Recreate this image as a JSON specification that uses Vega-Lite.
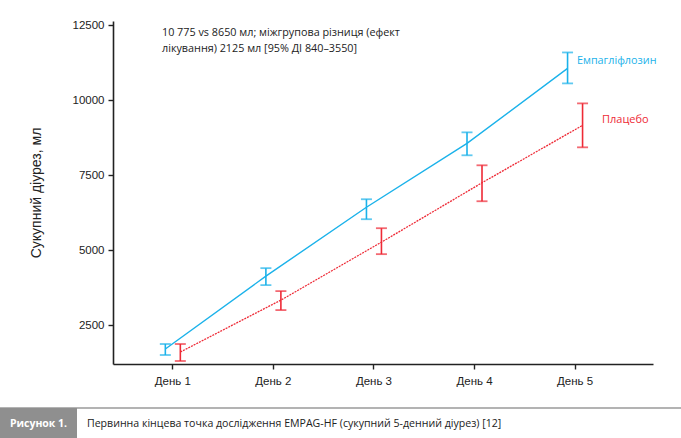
{
  "$schema": "https://vega.github.io/schema/vega-lite/v6.json",
  "width": 540,
  "height": 343,
  "autosize": {"type": "none"},
  "padding": {"left": 113, "top": 21, "right": 28, "bottom": 74},
  "background": "white",
  "config": {"view": {"stroke": null}},
  "datasets": {
    "main": [
      {"day": 1, "group": "Емпагліфлозин", "value": 1700, "lo": 1500, "hi": 1867},
      {"day": 2, "group": "Емпагліфлозин", "value": 4133, "lo": 3833, "hi": 4400},
      {"day": 3, "group": "Емпагліфлозин", "value": 6433, "lo": 6033, "hi": 6700},
      {"day": 4, "group": "Емпагліфлозин", "value": 8567, "lo": 8167, "hi": 8933},
      {"day": 5, "group": "Емпагліфлозин", "value": 11067, "lo": 10567, "hi": 11600},
      {"day": 1, "group": "Плацебо", "value": 1600, "lo": 1300, "hi": 1867},
      {"day": 2, "group": "Плацебо", "value": 3333, "lo": 3000, "hi": 3633},
      {"day": 3, "group": "Плацебо", "value": 5267, "lo": 4867, "hi": 5733},
      {"day": 4, "group": "Плацебо", "value": 7250, "lo": 6633, "hi": 7833},
      {"day": 5, "group": "Плацебо", "value": 9167, "lo": 8433, "hi": 9900}
    ]
  },
  "layer": [
    {
      "data": {"name": "main"},
      "transform": [{"filter": "datum.group === 'Емпагліфлозин'"}],
      "mark": {"type": "line", "color": "#1bb2ea", "strokeWidth": 1.4, "xOffset": -7},
      "encoding": {
        "x": {
          "field": "day", "type": "quantitative",
          "scale": {"domain": [0.41, 5.78], "nice": false, "zero": false},
          "axis": {
            "values": [1, 2, 3, 4, 5], "labelExpr": "'День ' + datum.value",
            "title": null, "grid": false, "domainColor": "#222", "domainWidth": 1.6,
            "tickColor": "#222", "tickWidth": 1.4, "tickSize": 5, "labelPadding": 6,
            "labelFont": "Liberation Sans", "labelFontSize": 11.5, "labelColor": "#222"
          }
        },
        "y": {
          "field": "value", "type": "quantitative",
          "scale": {"domain": [1200, 12650], "nice": false, "zero": false},
          "axis": {
            "values": [2500, 5000, 7500, 10000, 12500], "format": "d",
            "title": "Сукупний діурез, мл", "titleFont": "Liberation Sans", "titleFontSize": 14,
            "titleFontWeight": "normal", "titleColor": "#222", "titlePadding": 29,
            "grid": false, "domainColor": "#222", "domainWidth": 1.6,
            "tickColor": "#222", "tickWidth": 1.4, "tickSize": 5, "labelPadding": 4,
            "labelFont": "Liberation Sans", "labelFontSize": 11.5, "labelColor": "#222"
          }
        }
      }
    },
    {
      "data": {"name": "main"},
      "transform": [{"filter": "datum.group === 'Плацебо'"}],
      "mark": {"type": "line", "color": "#ee2a36", "strokeWidth": 1.3, "strokeDash": [2, 1], "xOffset": 8},
      "encoding": {"x": {"field": "day", "type": "quantitative"}, "y": {"field": "value", "type": "quantitative"}}
    },
    {
      "data": {"name": "main"},
      "transform": [{"filter": "datum.group === 'Емпагліфлозин'"}],
      "mark": {"type": "rule", "color": "#1bb2ea", "strokeWidth": 1.6, "xOffset": -7},
      "encoding": {"x": {"field": "day", "type": "quantitative"}, "y": {"field": "lo", "type": "quantitative"}, "y2": {"field": "hi"}}
    },
    {
      "data": {"name": "main"},
      "transform": [{"filter": "datum.group === 'Емпагліфлозин'"}],
      "mark": {"type": "tick", "color": "#1bb2ea", "orient": "horizontal", "size": 11, "thickness": 1.8, "xOffset": -7},
      "encoding": {"x": {"field": "day", "type": "quantitative"}, "y": {"field": "lo", "type": "quantitative"}}
    },
    {
      "data": {"name": "main"},
      "transform": [{"filter": "datum.group === 'Емпагліфлозин'"}],
      "mark": {"type": "tick", "color": "#1bb2ea", "orient": "horizontal", "size": 11, "thickness": 1.8, "xOffset": -7},
      "encoding": {"x": {"field": "day", "type": "quantitative"}, "y": {"field": "hi", "type": "quantitative"}}
    },
    {
      "data": {"name": "main"},
      "transform": [{"filter": "datum.group === 'Плацебо'"}],
      "mark": {"type": "rule", "color": "#ee2a36", "strokeWidth": 1.6, "xOffset": 8},
      "encoding": {"x": {"field": "day", "type": "quantitative"}, "y": {"field": "lo", "type": "quantitative"}, "y2": {"field": "hi"}}
    },
    {
      "data": {"name": "main"},
      "transform": [{"filter": "datum.group === 'Плацебо'"}],
      "mark": {"type": "tick", "color": "#ee2a36", "orient": "horizontal", "size": 11, "thickness": 1.8, "xOffset": 8},
      "encoding": {"x": {"field": "day", "type": "quantitative"}, "y": {"field": "lo", "type": "quantitative"}}
    },
    {
      "data": {"name": "main"},
      "transform": [{"filter": "datum.group === 'Плацебо'"}],
      "mark": {"type": "tick", "color": "#ee2a36", "orient": "horizontal", "size": 11, "thickness": 1.8, "xOffset": 8},
      "encoding": {"x": {"field": "day", "type": "quantitative"}, "y": {"field": "hi", "type": "quantitative"}}
    },
    {
      "data": {"values": [{"t": "Емпагліфлозин"}]},
      "mark": {"type": "text", "align": "left", "baseline": "middle", "font": "Open Sans", "fontSize": 10.8, "color": "#1bb2ea", "clip": false},
      "encoding": {"x": {"datum": 5.024, "type": "quantitative"}, "y": {"datum": 11315, "type": "quantitative"}, "text": {"field": "t"}}
    },
    {
      "data": {"values": [{"t": "Плацебо"}]},
      "mark": {"type": "text", "align": "left", "baseline": "middle", "font": "Open Sans", "fontSize": 11, "color": "#ee2a36", "clip": false},
      "encoding": {"x": {"datum": 5.273, "type": "quantitative"}, "y": {"datum": 9345, "type": "quantitative"}, "text": {"field": "t"}}
    },
    {
      "data": {"values": [{"t": ["10 775 vs 8650 мл; міжгрупова різниця (ефект", "лікування) 2125 мл [95% ДІ 840–3550]"]}]},
      "mark": {"type": "text", "align": "left", "baseline": "middle", "font": "Open Sans", "fontSize": 10.8, "lineHeight": 16, "color": "#222", "clip": false},
      "encoding": {"x": {"datum": 0.897, "type": "quantitative"}, "y": {"datum": 12250, "type": "quantitative"}, "text": {"field": "t"}}
    },
    {
      "data": {"values": [{"t": "line"}]},
      "mark": {"type": "rule", "color": "#9a9a9a", "strokeWidth": 1.5, "clip": false},
      "encoding": {"x": {"datum": -0.72, "type": "quantitative"}, "x2": {"datum": 6.06}, "y": {"datum": -268, "type": "quantitative"}}
    },
    {
      "data": {"values": [{"t": "box"}]},
      "mark": {"type": "rect", "color": "#8f8f8f", "clip": false},
      "encoding": {"x": {"datum": -0.72, "type": "quantitative"}, "x2": {"datum": 0.052}, "y": {"datum": -268, "type": "quantitative"}, "y2": {"datum": -1300}}
    },
    {
      "data": {"values": [{"t": "Рисунок 1."}]},
      "mark": {"type": "text", "align": "center", "baseline": "middle", "font": "Open Sans", "fontSize": 10.5, "fontWeight": "bold", "color": "white", "clip": false},
      "encoding": {"x": {"datum": -0.331, "type": "quantitative"}, "y": {"datum": -802, "type": "quantitative"}, "text": {"field": "t"}}
    },
    {
      "data": {"values": [{"t": "Первинна кінцева точка дослідження EMPAG-HF (сукупний 5-денний діурез) [12]"}]},
      "mark": {"type": "text", "align": "left", "baseline": "middle", "font": "Open Sans", "fontSize": 10.6, "color": "#222", "clip": false},
      "encoding": {"x": {"datum": 0.151, "type": "quantitative"}, "y": {"datum": -802, "type": "quantitative"}, "text": {"field": "t"}}
    }
  ]
}
